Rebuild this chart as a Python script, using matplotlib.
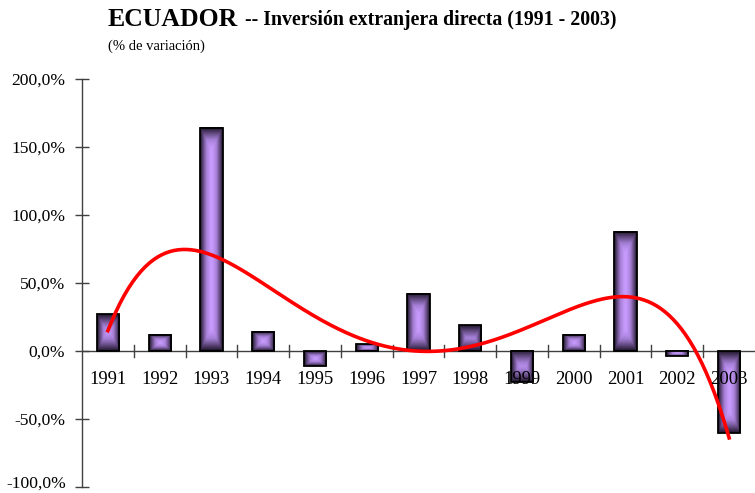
import numpy as np
import matplotlib
matplotlib.use("Agg")
import matplotlib.pyplot as plt
from matplotlib.patches import Rectangle
from matplotlib.colors import LinearSegmentedColormap

years = ["1991", "1992", "1993", "1994", "1995", "1996", "1997",
         "1998", "1999", "2000", "2001", "2002", "2003"]
values = [27, 12, 164, 14, -11, 5, 42, 19, -23, 12, 87.5, -4, -60]
yticks = [-100, -50, 0, 50, 100, 150, 200]
ytick_labels = ["-100,0%", "-50,0%", "0,0%", "50,0%", "100,0%", "150,0%", "200,0%"]
trend_degree = 6

serif = ["Liberation Serif", "DejaVu Serif"]

fig = plt.figure(figsize=(7.55, 4.93), dpi=100)
ax = fig.add_axes([82/755, 6/493, 673/755, 408/493])

cmap = LinearSegmentedColormap.from_list(
    "bar", [(0.0, "#c99cff"), (0.35, "#a57fd6"), (0.7, "#5c4578"), (1.0, "#1e1428")])

bw = 0.43
x = np.arange(len(years))
nu, nv = 40, 200
u = np.linspace(-1, 1, nu)
for xi, v in zip(x, values):
    x0, x1 = xi - bw/2, xi + bw/2
    y0, y1 = min(0, v), max(0, v)
    hpx = abs(v) * 1.36
    wpx = 22
    vv = np.linspace(-1, 1, nv)
    U, V = np.meshgrid(u, vv)
    du = np.abs(U)
    dv = np.abs(V)
    ratio = wpx / max(hpx, 1)
    dv_scaled = np.clip(1 - (1 - dv) * max(1, 1/ratio) * 0.5, 0, 1) if hpx > wpx else dv
    t = np.maximum(du, dv_scaled) ** 1.3
    ax.imshow(t, cmap=cmap, vmin=0, vmax=1, extent=(x0, x1, y0, y1),
              aspect="auto", origin="lower", zorder=2, interpolation="bilinear")
    ax.add_patch(Rectangle((x0, y0), bw, y1 - y0, fill=False,
                           edgecolor="black", linewidth=1.3, zorder=3))

# polynomial trend line (as an Excel trendline) fitted to the bar values
xf = x + 1
coef = np.polyfit(xf, values, trend_degree)
xs = np.linspace(1, len(years), 300)
ax.plot(xs - 1, np.polyval(coef, xs), color="red", linewidth=2.6, zorder=4)

ax.set_xlim(-0.5, len(years) - 0.5)
ax.set_ylim(-100, 200)
ax.set_aspect("auto")

for s in ["top", "right", "bottom"]:
    ax.spines[s].set_visible(False)
ax.spines["left"].set_color("#404040")
ax.spines["left"].set_linewidth(1.0)

ax.axhline(0, color="#404040", linewidth=1.0, zorder=1.5)
ax.set_yticks(yticks)
# bottom label is drawn separately so it stays inside the figure
ax.set_yticklabels([""] + ytick_labels[1:], fontfamily=serif, fontsize=12.6)
ax.tick_params(axis="y", direction="inout", length=10, width=1.0, color="#404040", pad=7)
fig.text(66/755, 1 - 493/493 + 5/493, ytick_labels[0], fontfamily=serif, fontsize=12.6,
         ha="right", va="baseline")

ax.set_xticks([])
tick_x = np.arange(0.5, len(years) - 0.5, 1.0)
for tx in tick_x:
    ax.plot([tx, tx], [-4.5, 4.5], color="#404040", linewidth=1.0, zorder=1.5)

for xi, lab in zip(x, years):
    ax.annotate(lab, xy=(xi, 0), xytext=(0, -28), textcoords="offset pixels",
                ha="center", va="center", fontfamily=serif, fontsize=13.4,
                zorder=6, annotation_clip=False)

fig.text(108/755, 1 - 19/493, "ECUADOR", fontfamily=serif, fontweight="bold",
         fontsize=18.5, va="center", ha="left")
fig.text(245/755, 1 - 20/493, "-- Inversión extranjera directa (1991 - 2003)",
         fontfamily=serif, fontweight="bold", fontsize=14.3, va="center", ha="left")
fig.text(108/755, 1 - 46/493, "(% de variación)", fontfamily=serif, fontsize=10.5,
         va="center", ha="left")

fig.savefig("out.png", dpi=100)
